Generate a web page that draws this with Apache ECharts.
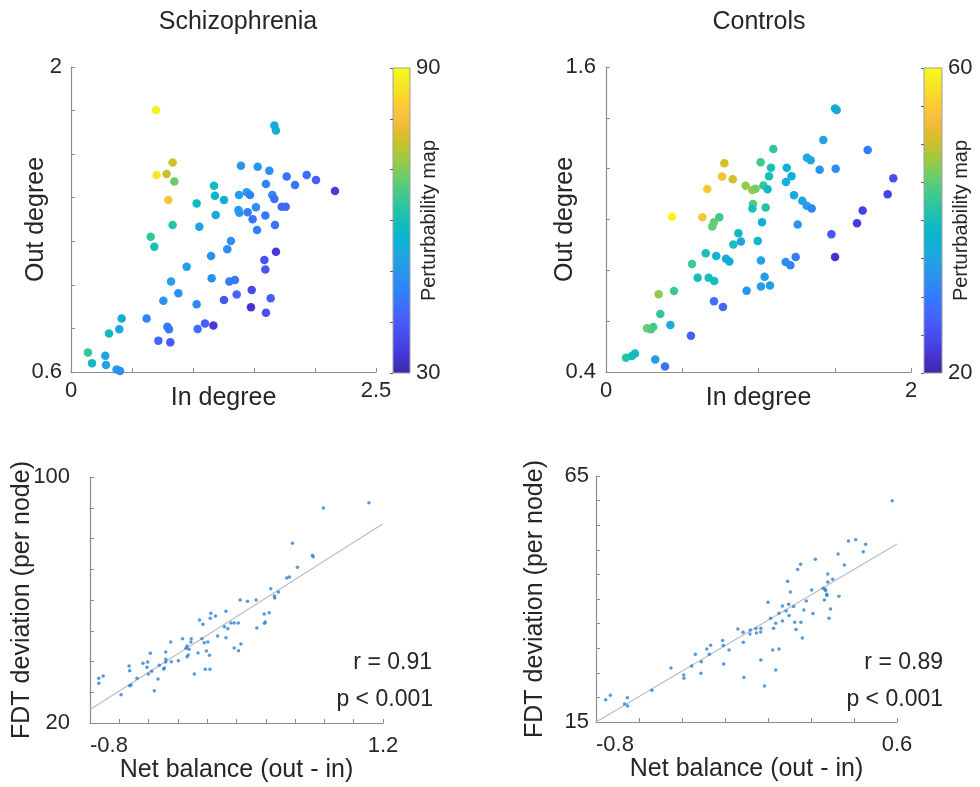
<!DOCTYPE html>
<html><head><meta charset="utf-8">
<script src="https://cdn.jsdelivr.net/npm/echarts@6/dist/echarts.min.js"></script>
<style>html,body{margin:0;padding:0;background:#fff}#c{width:980px;height:787px}</style>
</head><body><div id="c"></div>
<script>
// ---------- DATA ----------
const titles = ['Schizophrenia', 'Controls'];

// Schizophrenia: in degree, out degree, perturbability
const szInDegree = [0.697,1.667,1.680,0.833,0.702,0.784,0.847,1.393,1.530,1.626,1.768,1.932,2.008,2.164,1.172,1.598,1.836,0.798,1.180,1.254,1.030,1.377,1.440,1.467,1.650,1.667,1.727,1.760,1.516,1.372,1.380,1.448,1.186,1.593,1.489,0.833,1.052,1.672,1.525,0.653,0.683,1.311,1.281,1.680,1.148,1.585,1.593,0.948,0.820,1.153,1.298,1.344,0.880,1.358,1.481,0.757,1.030,1.254,1.637,1.475,1.598,0.415,0.620,0.311,0.396,0.790,0.803,1.038,1.098,1.167,0.716,0.814,0.139,0.281,0.172,0.287,0.374,0.402];
const szOutDegree = [1.803,1.731,1.708,1.562,1.504,1.509,1.474,1.547,1.542,1.524,1.497,1.504,1.481,1.431,1.455,1.463,1.458,1.389,1.409,1.389,1.374,1.412,1.425,1.412,1.412,1.394,1.359,1.359,1.356,1.344,1.331,1.333,1.321,1.318,1.301,1.275,1.267,1.275,1.252,1.221,1.175,1.201,1.163,1.152,1.132,1.114,1.071,1.083,1.015,1.030,1.015,1.022,0.961,0.956,0.976,0.927,0.911,0.930,0.938,0.897,0.872,0.846,0.846,0.777,0.796,0.808,0.796,0.797,0.823,0.813,0.744,0.736,0.689,0.675,0.640,0.632,0.612,0.605];
const szPerturb = [88,55,55,75,86,74,68,50,50,48,44,43,40,35,58,46,44,80,57,55,58,51,51,46,47,43,42,42,48,50,50,46,53,45,44,62,52,44,46,63,60,49,48,34,49,38,39,51,52,49,45,45,49,41,37,49,47,39,40,33,38,54,47,58,53,45,44,43,40,34,42,40,63,53,58,52,50,49];

// Controls: in degree, out degree, perturbability
const ctInDegree = [1.502,1.513,1.425,1.097,1.716,0.776,1.014,1.082,1.318,1.342,1.185,1.401,1.506,0.761,0.831,1.069,1.217,1.180,1.884,0.664,0.916,0.960,0.981,1.032,1.060,1.233,1.287,1.316,1.349,1.847,0.964,0.960,1.047,1.683,0.433,0.632,0.743,0.708,0.697,1.023,1.257,1.646,0.868,0.885,0.835,0.995,1.478,0.654,0.723,0.787,0.809,1.016,1.178,1.209,1.244,1.502,0.564,0.601,0.673,0.710,1.040,1.016,1.075,0.922,0.345,0.446,0.708,0.767,0.356,0.422,0.269,0.310,0.295,0.557,0.131,0.170,0.190,0.323,0.387];
const ctOutDegree = [1.437,1.431,1.313,1.277,1.273,1.221,1.225,1.204,1.243,1.233,1.204,1.196,1.200,1.169,1.158,1.170,1.170,1.148,1.162,1.120,1.133,1.116,1.121,1.134,1.119,1.095,1.074,1.054,1.043,1.099,1.061,1.043,1.047,1.035,1.011,1.009,1.009,0.989,0.972,0.989,0.980,0.985,0.946,0.913,0.902,0.915,0.942,0.867,0.856,0.846,0.835,0.839,0.833,0.820,0.852,0.852,0.825,0.771,0.771,0.758,0.775,0.736,0.740,0.720,0.706,0.719,0.678,0.656,0.628,0.585,0.572,0.577,0.568,0.543,0.456,0.463,0.473,0.449,0.422];
const ctPerturb = [36,36,35,42,30,50,43,40,35,35,37,33,32,53,50,40,37,36,25,54,47,47,46,42,39,36,35,34,31,24,44,40,41,24,59,54,43,45,45,37,33,23,39,35,40,37,26,40,37,36,36,35,32,31,30,22,43,39,40,39,34,34,34,33,47,43,29,28,42,35,45,43,44,27,41,40,39,34,29];

// Net balance vs FDT deviation
const szNetBalance = [1.104,0.793,0.582,0.718,0.723,0.616,0.561,0.543,0.486,0.434,0.459,0.461,0.334,0.275,0.225,0.389,0.423,0.396,0.391,0.339,0.128,0.025,0.057,0.021,-0.029,-0.052,0.118,0.141,0.162,0.184,0.212,0.071,0.128,-0.249,-0.168,-0.109,-0.111,-0.138,-0.145,-0.124,-0.036,-0.020,0.005,-0.283,-0.388,-0.063,-0.006,0.016,-0.129,-0.138,0.230,0.184,0.214,-0.197,-0.245,-0.283,-0.283,-0.293,-0.297,-0.327,-0.438,-0.406,-0.533,-0.529,-0.411,-0.379,-0.401,-0.479,-0.520,-0.529,-0.336,-0.361,-0.088,-0.013,0.019,-0.740,-0.710,-0.740,-0.588];
const szFDT = [91.65,89.92,78.43,74.53,74.09,70.62,67.48,67.15,62.60,63.69,61.30,60.65,60.00,59.57,60.00,55.45,55.88,52.85,52.41,50.89,56.31,55.66,54.80,54.04,52.09,53.50,51.33,50.68,52.52,52.52,52.52,48.29,47.75,46.34,47.43,47.43,46.34,45.04,44.28,43.96,47.43,46.12,46.34,43.09,42.66,42.76,43.41,42.01,42.11,41.57,45.69,44.39,43.52,40.27,39.95,40.70,39.84,37.89,37.56,38.75,39.40,39.84,38.54,37.02,38.10,36.80,35.93,34.53,32.36,32.14,34.31,30.51,35.93,37.45,37.45,34.53,35.28,32.90,29.21];
const ctNetBalance = [0.578,0.374,0.408,0.454,0.443,0.326,0.355,0.220,0.152,0.138,0.278,0.301,0.278,0.257,0.265,0.268,0.273,0.274,0.262,0.330,0.291,0.284,0.091,0.104,0.203,0.178,0.209,0.167,0.119,0.096,0.067,0.051,0.067,0.084,0.098,0.000,0.012,0.036,0.026,0.124,0.153,0.130,0.160,-0.140,-0.116,-0.082,-0.084,-0.056,-0.054,-0.033,-0.034,-0.115,0.022,0.051,-0.033,0.036,-0.016,-0.112,-0.211,-0.208,-0.181,-0.267,-0.273,-0.285,-0.338,-0.310,-0.355,-0.312,-0.206,-0.392,-0.391,-0.451,-0.540,-0.654,-0.667,-0.653,-0.755,-0.733];
const ctFDT = [59.95,51.81,52.02,51.14,49.58,49.17,46.93,48.08,47.07,45.98,45.10,44.02,43.47,42.19,41.98,41.71,40.97,40.69,39.81,40.56,37.98,36.08,43.61,41.44,41.85,39.61,37.03,37.78,38.46,38.93,38.59,37.10,35.54,37.58,36.63,39.34,36.08,35.07,34.05,35.27,35.27,33.78,32.08,33.92,33.24,33.71,32.90,33.98,33.10,34.05,33.31,31.20,29.64,29.85,27.61,25.58,22.32,24.02,31.54,30.53,29.64,30.59,28.76,29.85,28.76,27.27,26.39,24.90,26.80,24.56,23.88,25.98,21.44,19.95,18.66,18.25,19.54,20.42];

// least-squares fit lines (end points)
const szFitX = [-0.8, 1.2], szFitY = [24.4, 84.8];
const ctFitX = [-0.8, 0.6], ctFitY = [15.0, 51.2];

const szStats = ['r = 0.91', 'p < 0.001'];
const ctStats = ['r = 0.89', 'p < 0.001'];

// axis ranges / labels
const szTopX = {min: 0, max: 2.5, interval: 0.5, labels: ['0', '2.5']};
const szTopY = {min: 0.6, max: 2, interval: 0.2, labels: ['0.6', '2']};
const ctTopX = {min: 0, max: 2, interval: 0.5, labels: ['0', '2']};
const ctTopY = {min: 0.4, max: 1.6, interval: 0.2, labels: ['0.4', '1.6']};
const szCbar = {min: 30, max: 90, interval: 10, labels: ['30', '90']};
const ctCbar = {min: 20, max: 60, interval: 5, labels: ['20', '60']};
const szBotX = {min: -0.8, max: 1.2, interval: 0.2, labels: ['-0.8', '1.2']};
const szBotY = {min: 20, max: 100, interval: 10, labels: ['20', '100']};
const ctBotX = {min: -0.8, max: 0.6, interval: 0.2, labels: ['-0.8', '0.6']};
const ctBotY = {min: 15, max: 65, interval: 5, labels: ['15', '65']};

// parula colormap (sampled)
const parula = ['#3E26A8','#4537D5','#484DF0','#4563FD','#327CFC','#2B91EF','#20A5E3','#08B5D0','#19BFB6','#37C897','#64CD6F','#9DC943','#D1BF27','#F8BA3D','#FCCF30','#F5E924','#F9FB15'];
const parulaPos = [0,4,8,12,16,20,24,28,32,36,40,44,48,52,56,60,63].map(r => r / 63);

// ---------- CHART ----------
const FONT = 'Liberation Sans, Helvetica, Arial, sans-serif';
const TXT = '#262626';
const AXC = '#8c8c8c';

function zip(a, b, c) { return a.map((v, i) => c ? [v, b[i], c[i]] : [v, b[i]]); }

function lbl(spec, extra) {
  const eps = 1e-9;
  return Object.assign({
    show: true, showMinLabel: true, showMaxLabel: true, color: TXT, fontSize: 22, fontFamily: FONT,
    formatter: v => Math.abs(v - spec.min) < eps ? spec.labels[0] : (Math.abs(v - spec.max) < eps ? spec.labels[1] : '')
  }, extra || {});
}

function ax(spec, gridIndex, extra) {
  return Object.assign({
    type: 'value', gridIndex, min: spec.min, max: spec.max, interval: spec.interval,
    axisLine: {show: true, onZero: false, lineStyle: {color: AXC, width: 1.2}},
    axisTick: {show: true, inside: true, length: 4, lineStyle: {color: AXC}},
    splitLine: {show: false},
    axisLabel: lbl(spec),
    nameTextStyle: {color: TXT, fontSize: 25, fontFamily: FONT},
    nameLocation: 'middle',
    nameMoveOverlap: false
  }, extra || {});
}

function cbarSeries(xi, yi, spec) {
  return {
    type: 'custom', xAxisIndex: xi, yAxisIndex: yi, z: 1, silent: true,
    data: [[0, spec.min, 1, spec.max]],
    encode: {x: [0, 2], y: [1, 3]},
    renderItem: (params, api) => {
      const p0 = api.coord([api.value(0), api.value(1)]);
      const p1 = api.coord([api.value(2), api.value(3)]);
      const stops = parula.map((c, i) => ({offset: parulaPos[i], color: c}));
      return {
        type: 'rect',
        shape: {x: p0[0], y: p1[1], width: p1[0] - p0[0], height: p0[1] - p1[1]},
        style: {fill: new echarts.graphic.LinearGradient(0, 1, 0, 0, stops), stroke: '#a0a0a0', lineWidth: 1}
      };
    }
  };
}

function cbarAxis(spec, gi) {
  return ax(spec, gi, {
    position: 'right', z: 5, name: 'Perturbability map', nameGap: 9, nameRotate: 90,
    nameTextStyle: {color: TXT, fontSize: 20, fontFamily: FONT},
    axisLine: {show: false},
    axisTick: {show: true, inside: true, length: 3, lineStyle: {color: '#666'}},
    axisLabel: lbl(spec, {margin: 6, fontSize: 22})
  });
}

const titleStyle = {color: TXT, fontSize: 25, fontWeight: 'normal', fontFamily: FONT};
const statStyle = {align: 'right', verticalAlign: 'middle', fill: TXT, fontSize: 23, fontFamily: FONT};

const chart = echarts.init(document.getElementById('c'), null, {renderer: 'canvas'});
chart.setOption({
  backgroundColor: '#ffffff',
  animation: false,
  title: [
    {text: titles[0], left: 233, top: 5, textAlign: 'center', textStyle: titleStyle},
    {text: titles[1], left: 754, top: 5, textAlign: 'center', textStyle: titleStyle}
  ],
  grid: [
    {left: 71, top: 67, width: 305, height: 305},
    {left: 393, top: 68, width: 17, height: 305},
    {left: 606, top: 67, width: 305, height: 305},
    {left: 924, top: 68, width: 18, height: 305},
    {left: 90, top: 477, width: 293, height: 246},
    {left: 596, top: 476, width: 301, height: 246}
  ],
  xAxis: [
    ax(szTopX, 0, {name: 'In degree', nameGap: 14}),
    {type: 'value', gridIndex: 1, min: 0, max: 1, show: false},
    ax(ctTopX, 2, {name: 'In degree', nameGap: 14}),
    {type: 'value', gridIndex: 3, min: 0, max: 1, show: false},
    ax(szBotX, 4, {name: 'Net balance (out - in)', nameGap: 35, axisLabel: lbl(szBotX, {alignMinLabel: 'left', margin: 12})}),
    ax(ctBotX, 5, {name: 'Net balance (out - in)', nameGap: 35, axisLabel: lbl(ctBotX, {alignMinLabel: 'left', margin: 12})})
  ],
  yAxis: [
    ax(szTopY, 0, {name: 'Out degree', nameGap: 22, nameRotate: 90, axisLabel: lbl(szTopY, {margin: 9})}),
    cbarAxis(szCbar, 1),
    ax(ctTopY, 2, {name: 'Out degree', nameGap: 28, nameRotate: 90, axisLabel: lbl(ctTopY, {margin: 10})}),
    cbarAxis(ctCbar, 3),
    ax(szBotY, 4, {name: 'FDT deviation (per node)', nameGap: 55, nameRotate: 90, axisLabel: lbl(szBotY, {margin: 20})}),
    ax(ctBotY, 5, {name: 'FDT deviation (per node)', nameGap: 48, nameRotate: 90, axisLabel: lbl(ctBotY, {margin: 7})})
  ],
  visualMap: [
    {type: 'continuous', show: false, seriesIndex: 0, dimension: 2, min: szCbar.min, max: szCbar.max, inRange: {color: parula}},
    {type: 'continuous', show: false, seriesIndex: 2, dimension: 2, min: ctCbar.min, max: ctCbar.max, inRange: {color: parula}}
  ],
  series: [
    {type: 'scatter', xAxisIndex: 0, yAxisIndex: 0, symbolSize: 8.5, data: zip(szInDegree, szOutDegree, szPerturb), itemStyle: {opacity: 1}},
    cbarSeries(1, 1, szCbar),
    {type: 'scatter', xAxisIndex: 2, yAxisIndex: 2, symbolSize: 8.5, data: zip(ctInDegree, ctOutDegree, ctPerturb), itemStyle: {opacity: 1}},
    cbarSeries(3, 3, ctCbar),
    {type: 'scatter', xAxisIndex: 4, yAxisIndex: 4, symbolSize: 3.5, data: zip(szNetBalance, szFDT), itemStyle: {color: '#2a7fd2'}, z: 3},
    {type: 'line', xAxisIndex: 4, yAxisIndex: 4, data: zip(szFitX, szFitY), showSymbol: false, lineStyle: {color: '#bdbdbd', width: 1.2}, z: 2},
    {type: 'scatter', xAxisIndex: 5, yAxisIndex: 5, symbolSize: 3.5, data: zip(ctNetBalance, ctFDT), itemStyle: {color: '#2a7fd2'}, z: 3},
    {type: 'line', xAxisIndex: 5, yAxisIndex: 5, data: zip(ctFitX, ctFitY), showSymbol: false, lineStyle: {color: '#bdbdbd', width: 1.2}, z: 2}
  ],
  graphic: [
    {type: 'text', x: 432, y: 663, style: Object.assign({text: szStats[0]}, statStyle)},
    {type: 'text', x: 433, y: 700, style: Object.assign({text: szStats[1]}, statStyle)},
    {type: 'text', x: 943, y: 663, style: Object.assign({text: ctStats[0]}, statStyle)},
    {type: 'text', x: 943, y: 700, style: Object.assign({text: ctStats[1]}, statStyle)}
  ]
});
</script></body></html>
